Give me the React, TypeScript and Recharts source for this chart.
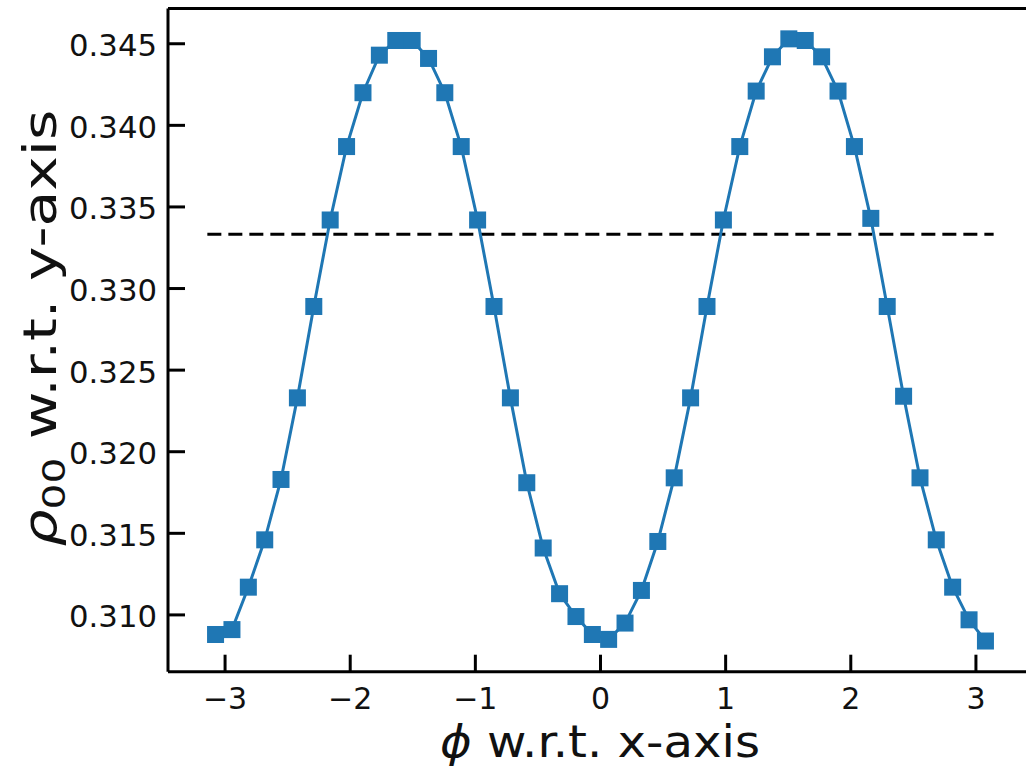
import { LineChart, Line, XAxis, YAxis, ReferenceLine } from "recharts";

// phi bin centres (48 bins over -pi..pi)
const PHI = [
  -3.076, -2.945, -2.814, -2.683, -2.553, -2.422, -2.291, -2.16, -2.029, -1.898, -1.767, -1.636,
  -1.505, -1.374, -1.244, -1.113, -0.982, -0.851, -0.72, -0.589, -0.458, -0.327, -0.196, -0.065,
  0.065, 0.196, 0.327, 0.458, 0.589, 0.72, 0.851, 0.982, 1.113, 1.244, 1.374, 1.505,
  1.636, 1.767, 1.898, 2.029, 2.16, 2.291, 2.422, 2.553, 2.683, 2.814, 2.945, 3.076,
];
const RHO = [
  0.3088, 0.3091, 0.3117, 0.3146, 0.3183, 0.3233, 0.3289, 0.3342, 0.3387, 0.342, 0.3443, 0.3452,
  0.3452, 0.3441, 0.342, 0.3387, 0.3342, 0.3289, 0.3233, 0.3181, 0.3141, 0.3113, 0.3099, 0.3088,
  0.3085, 0.3095, 0.3115, 0.3145, 0.3184, 0.3233, 0.3289, 0.3342, 0.3387, 0.3421, 0.3442, 0.3453,
  0.3452, 0.3442, 0.3421, 0.3387, 0.3343, 0.3289, 0.3234, 0.3184, 0.3146, 0.3117, 0.3097, 0.3084,
];
// dashed reference at 1/3
const REF_PHI = [-3.1416, 3.1416];
const REF_RHO = [0.33333, 0.33333];

const X_TICKS = [-3, -2, -1, 0, 1, 2, 3];
const Y_TICKS = [0.31, 0.315, 0.32, 0.325, 0.33, 0.335, 0.34, 0.345];
const X_DOMAIN = [-3.456, 3.456];
const Y_DOMAIN = [0.30652, 0.34716];

const data = PHI.map((phi, i) => ({ phi, rho: RHO[i] }));
const refData = REF_PHI.map((phi, i) => ({ phi, rho: REF_RHO[i] }));

const BLUE = "#1f77b4";
const FONT = "DejaVu Sans";

const SquareDot = (props: any) => {
  const { cx, cy, index } = props;
  if (cx == null || cy == null) return null;
  return <rect key={index} x={cx - 8.5} y={cy - 8.5} width={17} height={17} fill={BLUE} />;
};

const YTick = ({ x, y, payload }: any) => (
  <g>
    <line x1={x} x2={x + 17} y1={y} y2={y} stroke="#000" strokeWidth={3} />
    <text
      x={x - 11}
      y={y + 2}
      textAnchor="end"
      dominantBaseline="central"
      fontSize={30}
      textLength={88}
      lengthAdjust="spacingAndGlyphs"
      fontFamily={FONT}
      fill="#111"
    >
      {Number(payload.value).toFixed(3)}
    </text>
  </g>
);

const XTick = ({ x, y, payload }: any) => {
  const v = Number(payload.value);
  const label = v < 0 ? "\u2212" + Math.abs(v) : String(v);
  return (
    <g>
      <line x1={x} x2={x} y1={y} y2={y - 17} stroke="#000" strokeWidth={3} />
      <text x={x} y={y + 37} textAnchor="middle" fontSize={30} fontFamily={FONT} fill="#111">
        {label}
      </text>
    </g>
  );
};

export default function App() {
  return (
    <div
      style={{
        position: "absolute",
        left: 0,
        top: 0,
        width: 1026,
        height: 768,
        overflow: "hidden",
        background: "#fff",
      }}
    >
      <LineChart width={1040} height={768} margin={{ top: 8.5, right: 7, left: 0, bottom: 0 }}>
        <XAxis
          type="number"
          dataKey="phi"
          domain={X_DOMAIN}
          ticks={X_TICKS}
          interval={0}
          allowDataOverflow
          height={96.3}
          tickSize={0}
          tickMargin={0}
          tickLine={false}
          axisLine={{ stroke: "#000", strokeWidth: 3 }}
          tick={<XTick />}
        />
        <YAxis
          type="number"
          domain={Y_DOMAIN}
          ticks={Y_TICKS}
          interval={0}
          allowDataOverflow
          width={168}
          tickSize={0}
          tickMargin={0}
          tickLine={false}
          axisLine={{ stroke: "#000", strokeWidth: 3 }}
          tick={<YTick />}
        />
        <ReferenceLine y={Y_DOMAIN[1]} stroke="#000" strokeWidth={3} />
        <Line
          data={refData}
          dataKey="rho"
          type="linear"
          stroke="#000"
          strokeWidth={3}
          strokeDasharray="14 7"
          dot={false}
          activeDot={false}
          isAnimationActive={false}
        />
        <Line
          data={data}
          dataKey="rho"
          type="linear"
          stroke={BLUE}
          strokeWidth={3}
          dot={<SquareDot />}
          activeDot={false}
          isAnimationActive={false}
        />
      </LineChart>
      <svg
        width={1026}
        height={768}
        style={{ position: "absolute", left: 0, top: 0, pointerEvents: "none" }}
      >
        <text
          x={600}
          y={757}
          textAnchor="middle"
          fontSize={44}
          fontFamily={FONT}
          fill="#111"
          textLength={320}
          lengthAdjust="spacingAndGlyphs"
        >
          <tspan fontStyle="italic">ϕ</tspan> w.r.t. x-axis
        </text>
        <text
          transform="translate(56,328) rotate(-90)"
          textAnchor="middle"
          fontSize={46}
          fontFamily={FONT}
          fill="#111"
          textLength={437}
          lengthAdjust="spacingAndGlyphs"
        >
          <tspan fontStyle="italic">ρ</tspan>
          <tspan fontSize={32} dy={9}>
            00
          </tspan>
          <tspan dy={-9}> w.r.t. y-axis</tspan>
        </text>
      </svg>
    </div>
  );
}
